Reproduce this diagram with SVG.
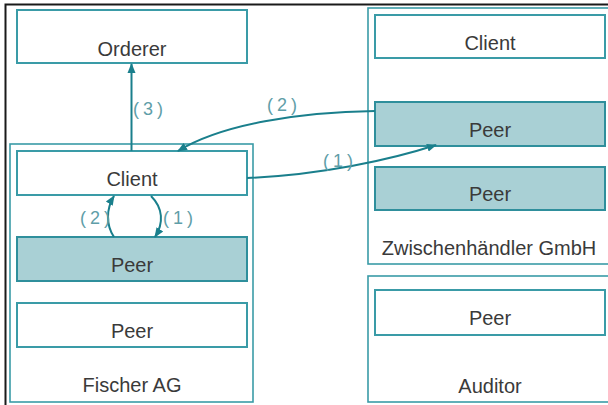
<svg xmlns="http://www.w3.org/2000/svg" width="608" height="405" viewBox="0 0 608 405">
<style>
.box{fill:#ffffff;stroke:#3a9ba7;stroke-width:2}
.fill{fill:#a9d0d5;stroke:#2f8f9c;stroke-width:2}
.outer{fill:none;stroke:#3a9ba7;stroke-width:1.6}
.t{font-family:"Liberation Sans",Arial,sans-serif;font-size:20px;fill:#3a3a3a;text-anchor:middle}
.lbl{font-family:"Liberation Sans",Arial,sans-serif;font-size:18px;fill:#5f9ea8;letter-spacing:4px}
.con{fill:none;stroke:#1a7f8c;stroke-width:2}
</style>
<defs>
<marker id="ah" markerUnits="userSpaceOnUse" markerWidth="10" markerHeight="10" viewBox="0 0 10 10" refX="9" refY="5" orient="auto">
<path d="M0,1 L10,5 L0,9 Z" fill="#1a7f8c"/>
</marker>
</defs>
<rect width="608" height="405" fill="#ffffff"/>
<path d="M5.5,405 V4.5 H608" fill="none" stroke="#1a1a1a" stroke-width="2"/>

<g id="orderer">
<rect class="box" x="17" y="10" width="230" height="53"/>
<text class="t" x="132" y="56">Orderer</text>
</g>

<g id="fischer-ag">
<rect class="outer" x="10" y="144" width="243" height="258"/>
<text class="t" x="132" y="392">Fischer AG</text>
</g>
<g id="fischer-client">
<rect class="box" x="17" y="151" width="230" height="44"/>
<text class="t" x="132" y="186">Client</text>
</g>
<g id="fischer-peer1">
<rect class="fill" x="17" y="237" width="230" height="44"/>
<text class="t" x="132" y="272">Peer</text>
</g>
<g id="fischer-peer2">
<rect class="box" x="17" y="303" width="230" height="44"/>
<text class="t" x="132" y="338">Peer</text>
</g>

<g id="zwischenhaendler">
<rect class="outer" x="368" y="8" width="250" height="256"/>
<text class="t" x="489" y="255">Zwischenhändler GmbH</text>
</g>
<g id="zw-client">
<rect class="box" x="375" y="15" width="230" height="43"/>
<text class="t" x="490" y="50">Client</text>
</g>
<g id="zw-peer1">
<rect class="fill" x="375" y="102" width="230" height="44"/>
<text class="t" x="490" y="137">Peer</text>
</g>
<g id="zw-peer2">
<rect class="fill" x="375" y="167" width="230" height="43"/>
<text class="t" x="490" y="201">Peer</text>
</g>

<g id="auditor">
<rect class="outer" x="368" y="276" width="250" height="126"/>
<text class="t" x="490" y="393">Auditor</text>
</g>
<g id="auditor-peer">
<rect class="box" x="375" y="290" width="230" height="45"/>
<text class="t" x="490" y="325">Peer</text>
</g>

<g id="connectors">
<path class="con" d="M131.5,151 V64" marker-end="url(#ah)"/>
<text class="lbl" x="133" y="115">(3)</text>
<path class="con" d="M375,111 C300,112 222,124 178,151" marker-end="url(#ah)"/>
<text class="lbl" x="267" y="111">(2)</text>
<path class="con" d="M247,178 C320,175 390,160 436,145" marker-end="url(#ah)"/>
<text class="lbl" x="323" y="167">(1)</text>
<path class="con" d="M114,237 C106,225 106,209 114,196" marker-end="url(#ah)"/>
<text class="lbl" x="80" y="224">(2)</text>
<path class="con" d="M151,196 C163,208 164,223 155,237" marker-end="url(#ah)"/>
<text class="lbl" x="163" y="224">(1)</text>
</g>
</svg>
